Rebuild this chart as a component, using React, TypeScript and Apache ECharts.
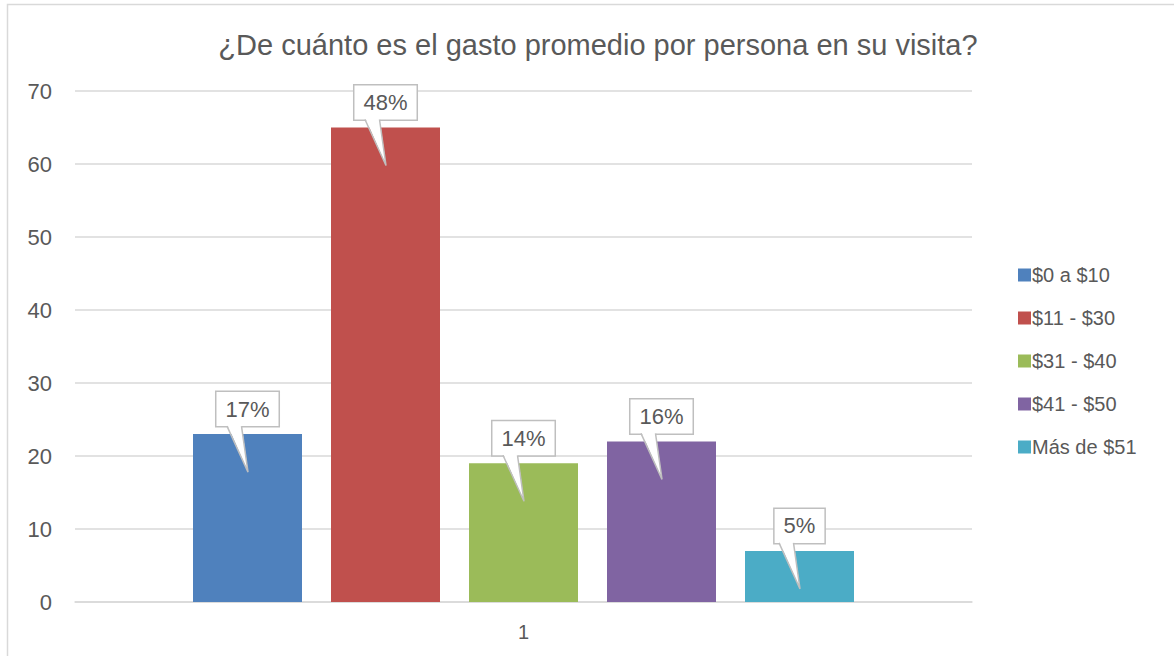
import React, { useEffect, useRef } from "react";
import * as echarts from "echarts";

const categories = ["1"];
const seriesNames = ["$0 a $10", "$11 - $30", "$31 - $40", "$41 - $50", "Más de $51"];
const seriesValues = [23, 65, 19, 22, 7];
const percentLabels = ["17%", "48%", "14%", "16%", "5%"];
const colors = ["#4F81BD", "#C0504D", "#9BBB59", "#8064A2", "#4BACC6"];
const yTicks = { min: 0, max: 70, interval: 10 };
const titleText = "¿De cuánto es el gasto promedio por persona en su visita?";

const FONT = "'Liberation Sans', Arial, sans-serif";
const TEXT = "#595959";
const GRIDC = "#D9D9D9";
const BAR_W = 109;
const BAR_GAP = 29;

export default function App() {
  const ref = useRef<HTMLDivElement>(null);
  useEffect(() => {
    if (!ref.current) return;
    const chart = echarts.init(ref.current, null, { renderer: "svg" });
    const n = seriesNames.length;
    const barSeries = seriesNames.map((name, i) => ({
      type: "bar",
      name,
      data: [seriesValues[i]],
      barWidth: BAR_W,
      barGap: (BAR_GAP / BAR_W) * 100 + "%",
      itemStyle: { color: colors[i] },
      z: 2,
    }));
    const calloutSeries = {
      type: "custom",
      name: "callouts",
      data: seriesValues.map((v, i) => [0, v, i]),
      encode: { x: 0, y: 1 },
      z: 5,
      clip: false,
      renderItem: (params: any, api: any) => {
        const cat = api.value(0);
        const val = api.value(1);
        const idx = api.value(2);
        const p = api.coord([cat, val]);
        const cx = p[0] + (idx - (n - 1) / 2) * (BAR_W + BAR_GAP);
        const yTop = p[1];
        const boxBottom = yTop - 8;
        const tipX = cx + 0.5;
        const tipY = yTop + 38;
        return {
          type: "group",
          children: [
            {
              type: "text",
              x: cx,
              y: boxBottom - 17,
              style: {
                text: percentLabels[idx],
                align: "center",
                verticalAlign: "middle",
                font: `22px ${FONT}`,
                fill: TEXT,
                backgroundColor: "#FFFFFF",
                borderColor: "#BFBFBF",
                borderWidth: 1.5,
                padding: [6, 9, 6, 9],
                lineHeight: 22,
              },
              z2: 1,
            },
            {
              type: "polygon",
              shape: {
                points: [
                  [cx - 20.5, boxBottom - 2],
                  [cx - 6, boxBottom - 2],
                  [tipX, tipY],
                ],
              },
              style: { fill: "#FFFFFF", stroke: null },
              z2: 2,
            },
            {
              type: "polyline",
              shape: {
                points: [
                  [cx - 20.5, boxBottom],
                  [tipX, tipY],
                  [cx - 6, boxBottom],
                ],
              },
              style: { fill: null, stroke: "#BFBFBF", lineWidth: 1.5 },
              z2: 3,
            },
          ],
        };
      },
    };
    chart.setOption({
      animation: false,
      textStyle: { fontFamily: FONT },
      grid: { left: 75, right: 202, top: 91, bottom: 54, containLabel: false },
      graphic: [
        {
          type: "rect",
          shape: { x: 7.5, y: 4.5, width: 1300, height: 800 },
          style: { fill: null, stroke: GRIDC, lineWidth: 1.5 },
          silent: true,
        },
        {
          type: "text",
          x: 598,
          y: 45,
          style: {
            text: titleText,
            align: "center",
            verticalAlign: "middle",
            font: `29px ${FONT}`,
            fill: TEXT,
          },
        },
      ],
      legend: {
        orient: "vertical",
        left: 1013,
        top: 260,
        itemWidth: 13,
        itemHeight: 13,
        itemGap: 23,
        icon: "rect",
        data: seriesNames,
        textStyle: { color: TEXT, fontSize: 20, fontFamily: FONT, padding: [0, 0, 0, -4] },
      },
      xAxis: {
        type: "category",
        data: categories,
        axisLine: { lineStyle: { color: GRIDC, width: 1.5 } },
        axisTick: { show: false },
        axisLabel: { color: TEXT, fontSize: 20, margin: 20 },
      },
      yAxis: {
        type: "value",
        min: yTicks.min,
        max: yTicks.max,
        interval: yTicks.interval,
        axisLine: { show: false },
        axisTick: { show: false },
        splitLine: { lineStyle: { color: GRIDC, width: 1.5 } },
        axisLabel: { color: TEXT, fontSize: 22, margin: 23 },
      },
      series: [...barSeries, calloutSeries],
    });
    return () => chart.dispose();
  }, []);
  return (
    <div
      ref={ref}
      style={{ position: "fixed", left: 0, top: 0, width: 1174, height: 656, background: "#fff" }}
    />
  );
}
